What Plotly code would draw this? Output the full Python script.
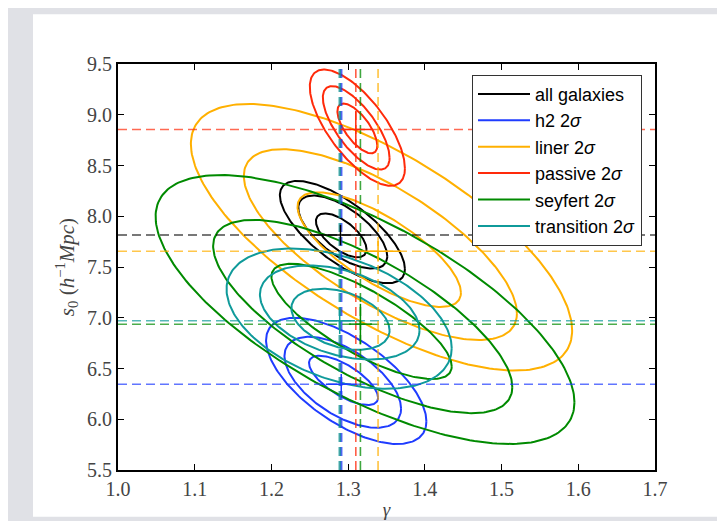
import numpy as np
import plotly.graph_objects as go

# ---------------- data ----------------
samples = ["all galaxies", "h2", "liner", "passive", "seyfert", "transition"]
legend_labels = ["all galaxies", "h2 2<i>σ</i>", "liner 2<i>σ</i>", "passive 2<i>σ</i>",
                 "seyfert 2<i>σ</i>", "transition 2<i>σ</i>"]
colors = ["#000000", "#1f3cff", "#ffb000", "#ff2a0a", "#008a00", "#0f9a9a"]

# best-fit values (dashed lines)
center_gamma = [1.290, 1.291, 1.339, 1.310, 1.316, 1.289]
center_s0 = [7.815, 6.345, 7.655, 8.855, 6.937, 6.970]
err_gamma = [0.04, 0.02, 0.03, 0.02, 0.015, 0.02]
err_s0 = [0.10, 0.10, 0.10, 0.18, 0.20, 0.13]

# contour extents per sample (outer, middle, inner)
gamma_min = {
    "all galaxies": [1.211, 1.235, 1.258],
    "h2": [1.193, 1.217, 1.249],
    "liner": [1.095, 1.164, 1.234],
    "passive": [1.250, 1.267, 1.286],
    "seyfert": [1.049, 1.124, 1.200],
    "transition": [1.1415, 1.185, 1.226],
}
gamma_max = {
    "all galaxies": [1.374, 1.351, 1.324],
    "h2": [1.402, 1.369, 1.339],
    "liner": [1.592, 1.520, 1.447],
    "passive": [1.374, 1.354, 1.338],
    "seyfert": [1.595, 1.514, 1.435],
    "transition": [1.435, 1.393, 1.354],
}
s0_min = {
    "all galaxies": [7.34, 7.484, 7.596],
    "h2": [5.756, 5.916, 6.14],
    "liner": [6.48, 6.78, 7.106],
    "passive": [8.30, 8.46, 8.62],
    "seyfert": [5.756, 6.06, 6.396],
    "transition": [6.30, 6.588, 6.684],
}
s0_max = {
    "all galaxies": [8.348, 8.204, 8.028],
    "h2": [7.00, 6.812, 6.626],
    "liner": [9.106, 8.66, 8.236],
    "passive": [9.446, 9.282, 9.11],
    "seyfert": [8.406, 7.964, 7.532],
    "transition": [7.682, 7.516, 7.286],
}
correlation = {
    "all galaxies": [-0.72, -0.66, -0.64],
    "h2": [-0.64, -0.58, -0.70],
    "liner": [-0.70, -0.72, -0.75],
    "passive": [-0.70, -0.72, -0.69],
    "seyfert": [-0.69, -0.73, -0.78],
    "transition": [-0.42, -0.38, -0.36],
}

x_ticks = [1.0, 1.1, 1.2, 1.3, 1.4, 1.5, 1.6, 1.7]
y_ticks = [5.5, 6.0, 6.5, 7.0, 7.5, 8.0, 8.5, 9.0, 9.5]
x_range = [1.0, 1.7]
y_range = [5.5, 9.5]
vline_top = 9.45

# ---------------- figure ----------------
fig = go.Figure()
t = np.linspace(0, 2 * np.pi, 241)

for i, s in enumerate(samples):
    for k in range(3):
        cx = 0.5 * (gamma_min[s][k] + gamma_max[s][k])
        cy = 0.5 * (s0_min[s][k] + s0_max[s][k])
        ax = 0.5 * (gamma_max[s][k] - gamma_min[s][k])
        ay = 0.5 * (s0_max[s][k] - s0_min[s][k])
        r = correlation[s][k]
        xs = cx + ax * np.cos(t)
        ys = cy + ay * (r * np.cos(t) + np.sqrt(1 - r * r) * np.sin(t))
        fig.add_trace(go.Scatter(
            x=xs, y=ys, mode="lines",
            line=dict(color=colors[i], width=2),
            name=legend_labels[i], legendgroup=s, showlegend=(k == 0),
            hoverinfo="skip"))

# dashed best-fit lines and crosses
for i, s in enumerate(samples):
    fig.add_trace(go.Scatter(
        x=x_range, y=[center_s0[i]] * 2, mode="lines",
        line=dict(color=colors[i], width=1.5, dash="9px,5px"), opacity=0.7,
        showlegend=False, hoverinfo="skip"))
vline_opacity = [0.3, 0.7, 0.75, 0.75, 0.75, 0.7]
vline_width = [2.5, 2.5, 1.6, 1.6, 1.6, 2.5]
for i in [0, 1, 5, 2, 3, 4]:
    fig.add_trace(go.Scatter(
        x=[center_gamma[i]] * 2, y=[y_range[0], vline_top], mode="lines",
        line=dict(color=colors[i], width=vline_width[i], dash="9px,5px"),
        opacity=vline_opacity[i], showlegend=False, hoverinfo="skip"))
for i, s in enumerate(samples):
    cx, cy = center_gamma[i], center_s0[i]
    fig.add_trace(go.Scatter(
        x=[cx - err_gamma[i], cx + err_gamma[i], None, cx, cx],
        y=[cy, cy, None, cy - err_s0[i], cy + err_s0[i]], mode="lines",
        line=dict(color=colors[i], width=1.5),
        showlegend=False, hoverinfo="skip"))

L, R, T, B = 110, 78, 56, 48
W, H = 725, 521
pw, ph = W - L - R, H - T - B

fig.add_shape(type="rect", xref="paper", yref="paper",
              x0=(25 - L) / pw, x1=(717 - L) / pw,
              y0=(H - B - 521) / ph, y1=(H - B - 5) / ph,
              fillcolor="white", line=dict(width=0), layer="below")

tickfont = dict(family="Liberation Serif", size=20, color="#444444")
fig.update_xaxes(range=x_range, tickvals=x_ticks, ticktext=[f"{v:.1f}" for v in x_ticks],
                 ticks="inside", ticklen=6, tickwidth=1, tickcolor="black",
                 showline=True, linecolor="black", linewidth=2, mirror="allticks",
                 showgrid=False, zeroline=False, tickfont=tickfont,
                 title=dict(text="<i>γ</i>", font=dict(family="Liberation Serif", size=19,
                                                       color="#444444"), standoff=4))
fig.update_yaxes(range=y_range, tickvals=y_ticks, ticktext=[f"{v:.1f}" for v in y_ticks],
                 ticks="inside", ticklen=6, tickwidth=1, tickcolor="black",
                 showline=True, linecolor="black", linewidth=2, mirror="allticks",
                 showgrid=False, zeroline=False, tickfont=tickfont,
                 title=dict(text="<i>s</i><sub>0</sub> (<i>h</i><sup>−1</sup><i>Mpc</i>)",
                            font=dict(family="Liberation Serif", size=21, color="#444444"),
                            standoff=7))

fig.update_layout(
    width=W, height=H,
    margin=dict(l=L, r=R, t=T, b=B),
    paper_bgcolor="#e0e1e6", plot_bgcolor="white",
    showlegend=True,
    legend=dict(x=(464 - L) / pw, y=(H - B - 67) / ph, xanchor="left", yanchor="top",
                bgcolor="white", bordercolor="#333333", borderwidth=1,
                font=dict(family="Liberation Sans", size=18, color="black"),
                itemwidth=52, tracegroupgap=0),
)

fig.write_html("out.html")
